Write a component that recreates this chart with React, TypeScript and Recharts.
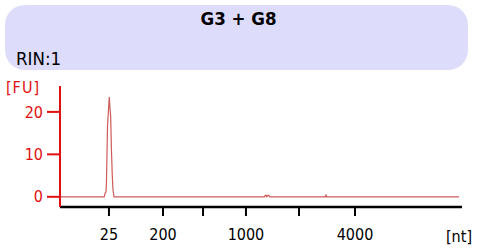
import React from "react";
import { Line, LineChart, XAxis, YAxis } from "recharts";

// migration time (s) and fluorescence (FU)
const times = [
  20, 25.5, 25.62, 25.72, 25.78, 25.91, 26.13, 26.22, 26.3, 26.4, 26.5, 26.59,
  26.72, 45.45, 45.52, 45.65, 45.72, 45.85, 45.98, 46.05, 53.0, 53.08, 53.16,
  69.63,
];
const fluorescence = [
  0, 0, 0.9, 1.2, 3.5, 16.7, 23.5, 20.7, 19, 10.9, 5.1, 1.6, 0, 0, 0.35, 0.35,
  0, 0.35, 0.35, 0, 0, 0.4, 0, 0,
];

const tickTimes = [26.09, 32.81, 37.79, 43.13, 49.73, 56.69];
const tickLabels = ["25", "200", "", "1000", "", "4000"];
const yTicks = [0, 10, 20];

const data = times.map((t, i) => ({ t, fu: fluorescence[i] }));

const font = "'DejaVu Sans Condensed', 'DejaVu Sans', sans-serif";
const red = "#e01010";

const App = () => {
  return (
    <div
      style={{
        position: "absolute",
        left: 0,
        top: 0,
        width: 477,
        height: 248,
        fontFamily: font,
        background: "#fff",
      }}
    >
      <div
        style={{
          position: "absolute",
          left: 5,
          top: 5,
          width: 463,
          height: 65,
          borderRadius: 20,
          background: "#dddcfb",
        }}
      />
      <div
        style={{
          position: "absolute",
          left: 0,
          width: 477,
          top: 8,
          textAlign: "center",
          fontWeight: "bold",
          fontSize: 18.5,
        }}
      >
        G3 + G8
      </div>
      <div style={{ position: "absolute", left: 16, top: 48, fontSize: 18.5 }}>
        RIN:1
      </div>
      <div
        style={{
          position: "absolute",
          left: 6,
          top: 78,
          fontSize: 16,
          color: red,
          letterSpacing: 1,
        }}
      >
        [FU]
      </div>
      <div style={{ position: "absolute", left: 446, top: 227, fontSize: 16 }}>
        [nt]
      </div>
      <div style={{ position: "absolute", left: 0, top: 0 }}>
        <LineChart
          width={477}
          height={248}
          data={data}
          margin={{ top: 86, right: 15, bottom: 0, left: 0 }}
        >
          <XAxis
            dataKey="t"
            type="number"
            domain={[20, 70]}
            ticks={tickTimes}
            tickFormatter={(v: number) => tickLabels[tickTimes.indexOf(v)]}
            height={41}
            axisLine={{ stroke: "#000", strokeWidth: 2.5 }}
            tickLine={{ stroke: "#000", strokeWidth: 2 }}
            tickSize={9}
            tickMargin={13}
            tick={{ fill: "#000", fontSize: 16, fontFamily: font }}
            interval={0}
          />
          <YAxis
            type="number"
            domain={[-2.4, 26.1]}
            ticks={yTicks}
            width={60}
            axisLine={{ stroke: red, strokeWidth: 2 }}
            tickLine={{ stroke: red, strokeWidth: 2 }}
            tickSize={13}
            tickMargin={4}
            tick={{ fill: red, fontSize: 16, fontFamily: font }}
            interval={0}
          />
          <Line
            type="linear"
            dataKey="fu"
            stroke="#d05a5a"
            strokeWidth={1.2}
            dot={false}
            isAnimationActive={false}
          />
        </LineChart>
      </div>
    </div>
  );
};

export default App;
